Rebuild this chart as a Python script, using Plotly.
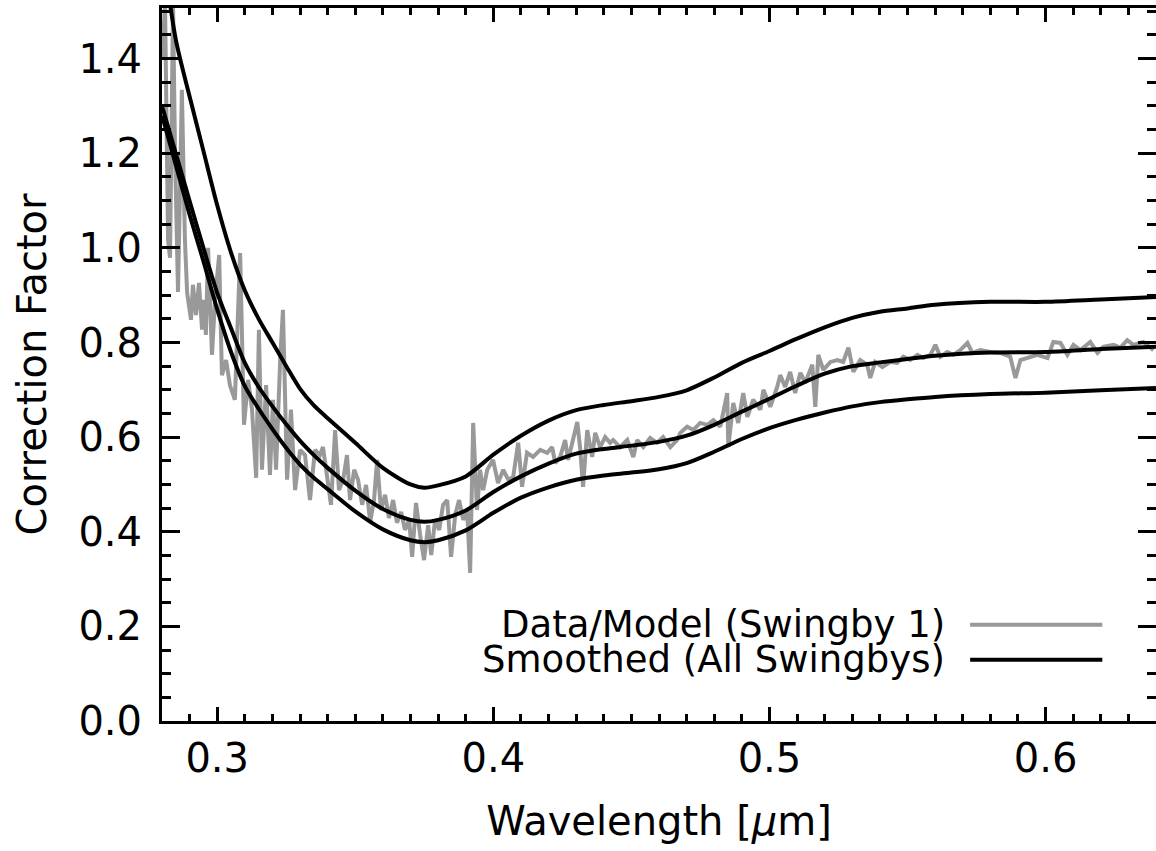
import plotly.graph_objects as go

# ---- data ----
data_wl = [0.2800, 0.2811, 0.2822, 0.2829, 0.2840, 0.2847, 0.2858, 0.2872, 0.2883, 0.2891,
           0.2905, 0.2912, 0.2923, 0.2934, 0.2945, 0.2952, 0.2959, 0.2967, 0.2981, 0.2992,
           0.3007, 0.3017, 0.3032, 0.3046, 0.3064, 0.3083, 0.3097, 0.3112, 0.3126, 0.3141,
           0.3151, 0.3162, 0.3177, 0.3191, 0.3202, 0.3213, 0.3228, 0.3238, 0.3253, 0.3267,
           0.3282, 0.3300, 0.3318, 0.3336, 0.3354, 0.3372, 0.3383, 0.3398, 0.3412, 0.3427,
           0.3441, 0.3456, 0.3470, 0.3481, 0.3496, 0.3510, 0.3525, 0.3539, 0.3554, 0.3568,
           0.3579, 0.3593, 0.3608, 0.3622, 0.3637, 0.3651, 0.3666, 0.3680, 0.3695, 0.3706,
           0.3720, 0.3735, 0.3749, 0.3764, 0.3775, 0.3789, 0.3804, 0.3818, 0.3833, 0.3847,
           0.3862, 0.3876, 0.3891, 0.3905, 0.3916, 0.3927, 0.3941, 0.3952, 0.3963, 0.3978,
           0.3999, 0.4017, 0.4036, 0.4054, 0.4072, 0.4090, 0.4104, 0.4122, 0.4144, 0.4170,
           0.4195, 0.4213, 0.4224, 0.4242, 0.4260, 0.4271, 0.4289, 0.4304, 0.4314, 0.4325,
           0.4340, 0.4358, 0.4369, 0.4387, 0.4405, 0.4423, 0.4434, 0.4459, 0.4485, 0.4507,
           0.4521, 0.4543, 0.4568, 0.4593, 0.4615, 0.4641, 0.4666, 0.4677, 0.4702, 0.4724,
           0.4749, 0.4775, 0.4797, 0.4822, 0.4847, 0.4851, 0.4869, 0.4887, 0.4905, 0.4920,
           0.4941, 0.4967, 0.4978, 0.5003, 0.5028, 0.5039, 0.5057, 0.5075, 0.5093, 0.5112,
           0.5130, 0.5155, 0.5166, 0.5177, 0.5195, 0.5221, 0.5246, 0.5267, 0.5286, 0.5304,
           0.5329, 0.5354, 0.5365, 0.5383, 0.5409, 0.5438, 0.5463, 0.5485, 0.5510, 0.5536,
           0.5557, 0.5583, 0.5601, 0.5619, 0.5644, 0.5666, 0.5691, 0.5717, 0.5735, 0.5764,
           0.5800, 0.5836, 0.5872, 0.5891, 0.5909, 0.5934, 0.5970, 0.6007, 0.6028, 0.6054,
           0.6079, 0.6101, 0.6126, 0.6162, 0.6188, 0.6209, 0.6246, 0.6271, 0.6296, 0.6318,
           0.6354, 0.6391]
data_cf = [1.397, 1.514, 1.017, 0.979, 1.514, 1.207, 0.907, 1.334, 1.017, 0.905,
           0.848, 0.922, 0.858, 0.926, 0.827, 0.890, 0.816, 1.000, 0.774, 0.890,
           0.985, 0.731, 0.763, 0.710, 0.679, 0.989, 0.626, 0.721, 0.658, 0.514,
           0.827, 0.531, 0.710, 0.520, 0.679, 0.531, 0.763, 0.869, 0.510, 0.658,
           0.488, 0.573, 0.562, 0.467, 0.573, 0.562, 0.579, 0.510, 0.457, 0.615,
           0.488, 0.510, 0.562, 0.467, 0.531, 0.510, 0.457, 0.499, 0.421, 0.467,
           0.552, 0.446, 0.478, 0.429, 0.467, 0.419, 0.442, 0.404, 0.425, 0.347,
           0.461, 0.393, 0.340, 0.414, 0.351, 0.425, 0.404, 0.457, 0.467, 0.347,
           0.436, 0.467, 0.425, 0.446, 0.313, 0.630, 0.446, 0.531, 0.488, 0.531,
           0.552, 0.503, 0.531, 0.510, 0.516, 0.588, 0.495, 0.567, 0.558, 0.573,
           0.567, 0.579, 0.545, 0.558, 0.594, 0.552, 0.594, 0.632, 0.579, 0.495,
           0.615, 0.558, 0.609, 0.579, 0.600, 0.588, 0.594, 0.579, 0.594, 0.558,
           0.594, 0.579, 0.598, 0.588, 0.600, 0.579, 0.594, 0.609, 0.622, 0.615,
           0.630, 0.626, 0.636, 0.622, 0.693, 0.579, 0.672, 0.630, 0.693, 0.643,
           0.679, 0.658, 0.700, 0.664, 0.706, 0.731, 0.706, 0.738, 0.693, 0.736,
           0.715, 0.753, 0.664, 0.774, 0.742, 0.759, 0.763, 0.759, 0.789, 0.738,
           0.763, 0.753, 0.725, 0.759, 0.748, 0.759, 0.757, 0.770, 0.763, 0.774,
           0.767, 0.774, 0.795, 0.770, 0.780, 0.774, 0.784, 0.799, 0.778, 0.784,
           0.780, 0.778, 0.770, 0.725, 0.763, 0.767, 0.774, 0.767, 0.801, 0.799,
           0.774, 0.795, 0.784, 0.801, 0.778, 0.791, 0.795, 0.789, 0.805, 0.795,
           0.801, 0.784]

# smoothed curves (read on a common wavelength grid)
smooth_wl = [0.280, 0.285, 0.290, 0.295, 0.300, 0.305, 0.310, 0.315, 0.320, 0.325,
             0.330, 0.335, 0.340, 0.350, 0.360, 0.370, 0.375, 0.380, 0.390, 0.400,
             0.410, 0.420, 0.430, 0.440, 0.450, 0.460, 0.470, 0.480, 0.490, 0.500,
             0.510, 0.520, 0.530, 0.540, 0.550, 0.560, 0.580, 0.600, 0.620, 0.640]
mid_cf = [1.300, 1.200, 1.099, 1.000, 0.905, 0.830, 0.757, 0.706, 0.665, 0.627,
          0.592, 0.562, 0.535, 0.487, 0.448, 0.425, 0.421, 0.425, 0.445, 0.484,
          0.517, 0.544, 0.565, 0.575, 0.582, 0.590, 0.603, 0.626, 0.654, 0.681,
          0.709, 0.734, 0.750, 0.758, 0.765, 0.772, 0.779, 0.780, 0.786, 0.791]
low_cf = [1.280, 1.175, 1.070, 0.972, 0.870, 0.780, 0.708, 0.660, 0.617, 0.577,
          0.542, 0.514, 0.490, 0.443, 0.405, 0.382, 0.378, 0.382, 0.403, 0.440,
          0.472, 0.494, 0.510, 0.519, 0.525, 0.532, 0.545, 0.569, 0.596, 0.619,
          0.637, 0.652, 0.665, 0.674, 0.680, 0.685, 0.691, 0.694, 0.699, 0.704]
up_cf = [1.640, 1.440, 1.320, 1.205, 1.090, 0.990, 0.910, 0.850, 0.800, 0.750,
         0.702, 0.667, 0.640, 0.588, 0.535, 0.500, 0.493, 0.498, 0.517, 0.563,
         0.603, 0.635, 0.657, 0.668, 0.676, 0.685, 0.699, 0.726, 0.757, 0.782,
         0.808, 0.832, 0.852, 0.865, 0.872, 0.880, 0.886, 0.886, 0.891, 0.896]

x_ticks = [0.3, 0.4, 0.5, 0.6]
y_ticks = [0.0, 0.2, 0.4, 0.6, 0.8, 1.0, 1.2, 1.4]
legend_labels = ["Data/Model (Swingby 1)", "Smoothed (All Swingbys)"]

GRAY = "#999999"
FONT = "DejaVu Sans"

fig = go.Figure()
fig.add_trace(go.Scatter(x=data_wl, y=data_cf, mode="lines",
                         line=dict(color=GRAY, width=4), showlegend=False))
for cf in (up_cf, mid_cf, low_cf):
    fig.add_trace(go.Scatter(x=smooth_wl, y=cf, mode="lines",
                             line=dict(color="black", width=4, shape="spline", smoothing=0.8),
                             showlegend=False))

axis_common = dict(showline=True, linecolor="black", linewidth=3, mirror="allticks",
                   ticks="inside", tickcolor="black", tickwidth=3, showgrid=False,
                   zeroline=False, automargin=False,
                   tickfont=dict(family=FONT, size=40, color="black"))

fig.update_xaxes(range=[0.28, 0.64], tickvals=x_ticks, tickformat=".1f", ticklen=14,
                 ticklabelstandoff=0,
                 minor=dict(dtick=0.01, ticklen=7, tickwidth=3, tickcolor="black", ticks="inside"),
                 title=dict(text="Wavelength [<i>μ</i>m]", font=dict(family=FONT, size=40, color="black"),
                            standoff=27),
                 **axis_common)
fig.update_yaxes(range=[0.0, 1.507], tickvals=y_ticks, tickformat=".1f", ticklen=18,
                 ticklabelstandoff=9,
                 minor=dict(dtick=0.05, ticklen=9, tickwidth=3, tickcolor="black", ticks="inside"),
                 title=dict(text="Correction Factor", font=dict(family=FONT, size=40, color="black"),
                            standoff=20),
                 **axis_common)

# legend drawn as text + sample lines (text left of line, as in reference)
leg_y = [0.135, 0.086]
leg_colors = [GRAY, "black"]
for lab, yy, col in zip(legend_labels, leg_y, leg_colors):
    fig.add_annotation(xref="paper", yref="paper", x=0.790, y=yy, text=lab, showarrow=False,
                       xanchor="right", yanchor="middle",
                       font=dict(family=FONT, size=37, color="black"))
    fig.add_shape(type="line", xref="paper", yref="paper", x0=0.813, x1=0.946, y0=yy, y1=yy,
                  line=dict(color=col, width=4))

fig.update_layout(width=1156, height=851, margin=dict(l=162, r=0, t=8, b=130),
                  plot_bgcolor="white", paper_bgcolor="white")

# remove the default page margin so the figure fills the window exactly
fig.write_html("out.html", config={"displayModeBar": False},
               post_script="document.body.style.margin='0';document.body.style.overflow='hidden';")
